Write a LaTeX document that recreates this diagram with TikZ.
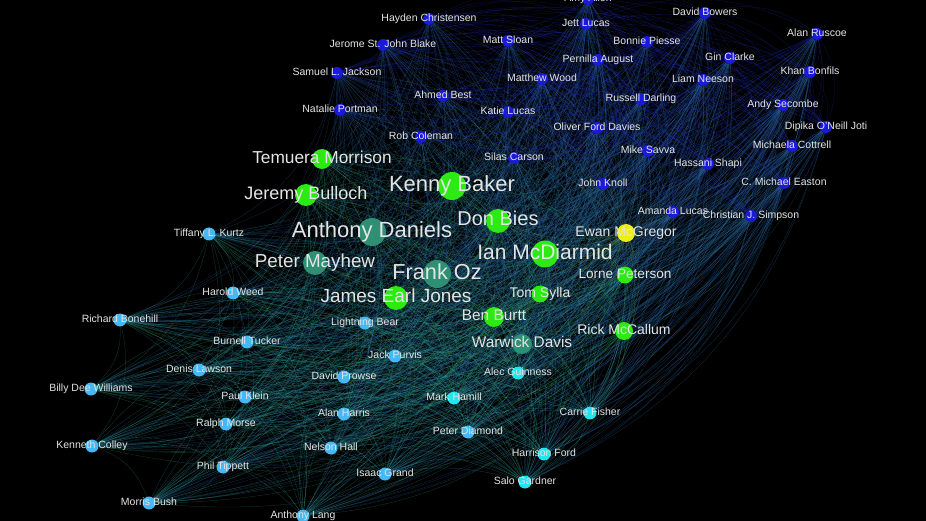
\documentclass[tikz,border=0pt]{standalone}
\usepackage{fontspec}
\setmainfont{Liberation Sans}
\pgfdeclarelayer{edges}
\pgfsetlayers{edges,main}
\definecolor{blu}{HTML}{1A1AD8}
\definecolor{grn}{HTML}{2CEB12}
\definecolor{tea}{HTML}{2F8F73}
\definecolor{lbl}{HTML}{45B8F5}
\definecolor{cya}{HTML}{22E5F0}
\definecolor{yel}{HTML}{EEEE11}
\definecolor{eblu}{HTML}{2430C8}
\definecolor{egrn}{HTML}{30B040}
\definecolor{etea}{HTML}{2F9078}
\definecolor{elbl}{HTML}{2EA098}
\definecolor{ecya}{HTML}{30C8B8}
\definecolor{eyel}{HTML}{A0C030}
\definecolor{labc}{HTML}{E4E4E4}
\tikzset{
  vtx/.style={circle, inner sep=0pt, draw=none},
  lab/.style={text=labc, inner sep=0pt, text depth=0pt},
  edg/.style={line width=0.3pt, opacity=0.38},
}
\newcommand\fsz[1]{\fontsize{#1pt}{#1pt}\selectfont}
\def\NL{amy/blu/588/-1/12/10.5/Amy Allen,
hayden/blu/429/19/12/10.5/Hayden Christensen,
jett/blu/586/24/12/10.5/Jett Lucas,
bowers/blu/705/13/12/10.5/David Bowers,
ruscoe/blu/817/34/12/10.5/Alan Ruscoe,
sloan/blu/508/41/12/10.5/Matt Sloan,
blake/blu/383/45/12/10.5/Jerome St. John Blake,
bonnie/blu/647/42/12/10.5/Bonnie Piesse,
pernilla/blu/598/60/12/10.5/Pernilla August,
gin/blu/730/58/12/10.5/Gin Clarke,
samuel/blu/337/73/12/10.5/Samuel L. Jackson,
khan/blu/810/72/12/10.5/Khan Bonfils,
mwood/blu/542/79/12/10.5/Matthew Wood,
liam/blu/703/80/12/10.5/Liam Neeson,
ahmed/blu/443/96/12/10.5/Ahmed Best,
russell/blu/641/99/12/10.5/Russell Darling,
andy/blu/783/105/12/10.5/Andy Secombe,
natalie/blu/340/110/12/10.5/Natalie Portman,
katie/blu/508/112/12/10.5/Katie Lucas,
rob/blu/421/137/12/10.5/Rob Coleman,
oliver/blu/597/128/12/10.5/Oliver Ford Davies,
dipika/blu/826/127/12/10.5/Dipika O'Neill Joti,
savva/blu/648/151/12/10.5/Mike Savva,
michaela/blu/792/146/12/10.5/Michaela Cottrell,
silas/blu/514/158/12/10.5/Silas Carson,
hassani/blu/708/164/12/10.5/Hassani Shapi,
knoll/blu/603/184/12/10.5/John Knoll,
easton/blu/784/183/12/10.5/C. Michael Easton,
amanda/blu/673/212/12/10.5/Amanda Lucas,
simpson/blu/751/216/12/10.5/Christian J. Simpson,
ewan/yel/626/233/18/14/Ewan McGregor,
temuera/grn/322/159/20/17.3/Temuera Morrison,
jeremy/grn/306/195/22/18/Jeremy Bulloch,
kenny/grn/452/186/28/22/Kenny Baker,
donbies/grn/498/221/24/20/Don Bies,
ian/grn/545/254/27/21/Ian McDiarmid,
lorne/grn/625/275/17/13.6/Lorne Peterson,
tom/grn/540/294/17/14/Tom Sylla,
jej/grn/396/298/24/19/James Earl Jones,
ben/grn/494/317/20/15.4/Ben Burtt,
rick/grn/624/331/18/14/Rick McCallum,
anthony/tea/372/232/28/22/Anthony Daniels,
mayhew/tea/315/263/24/18.8/Peter Mayhew,
frank/tea/437/274/28/21.7/Frank Oz,
warwick/tea/522/344/20/15.4/Warwick Davis,
tiffany/lbl/209/234/13/10.5/Tiffany L. Kurtz,
harold/lbl/233/293/13/10.5/Harold Weed,
richard/lbl/120/320/13/10.5/Richard Bonehill,
burnell/lbl/247/342/13/10.5/Burnell Tucker,
denis/lbl/199/370/13/10.5/Denis Lawson,
billy/lbl/91/389/13/10.5/Billy Dee Williams,
paul/lbl/245/397/13/10.5/Paul Klein,
ralph/lbl/226/424/13/10.5/Ralph Morse,
kenneth/lbl/92/446/13/10.5/Kenneth Colley,
phil/lbl/223/467/13/10.5/Phil Tippett,
morris/lbl/149/503/13/10.5/Morris Bush,
alang/lbl/303/516/13/10.5/Anthony Lang,
lightning/lbl/365/323/13/10.5/Lightning Bear,
jack/lbl/395/356/13/10.5/Jack Purvis,
prowse/lbl/344/377/13/10.5/David Prowse,
harris/lbl/344/414/13/10.5/Alan Harris,
nelson/lbl/331/448/13/10.5/Nelson Hall,
isaac/lbl/385/474/13/10.5/Isaac Grand,
diamond/lbl/468/432/13/10.5/Peter Diamond,
alec/cya/518/373/13/10.5/Alec Guinness,
mark/cya/454/398/13/10.5/Mark Hamill,
carrie/cya/590/413/13/10.5/Carrie Fisher,
harrison/cya/544/454/13/10.5/Harrison Ford,
salo/cya/525/482/13/10.5/Salo Gardner}
\begin{document}
\begin{tikzpicture}[x=1pt,y=-1pt]
\useasboundingbox (0,0) rectangle (926,521);
\foreach \n/\c/\x/\y/\d/\f/\t in \NL {
  \node[vtx, fill=\c, minimum size=\d pt] (\n) at (\x,\y) {};
}
\begin{pgfonlayer}{edges}
\fill[black] (0,0) rectangle (926,521);
\pgfmathsetseed{42}
\foreach \a/\ca/\xa/\ya/\da/\fa/\ta [count=\i] in \NL {
  \foreach \b/\cb/\xb/\yb/\db/\fb/\tb [count=\j] in \NL {
    \ifnum\j>\i
      \pgfmathsetmacro\r{rnd}
      \ifdim\r pt<0.7pt
        \draw[edg, draw=e\ca!50!e\cb] (\a) to[bend left=25] (\b);
      \fi
    \fi
  }
}
\end{pgfonlayer}
\foreach \n/\c/\x/\y/\d/\f/\t in \NL {
  \node[lab, font=\fsz{\f}, text height={\f*0.72pt}, yshift={\f*0.12pt}] (l-\n) at (\n) {\t};
}
\end{tikzpicture}
\end{document}
